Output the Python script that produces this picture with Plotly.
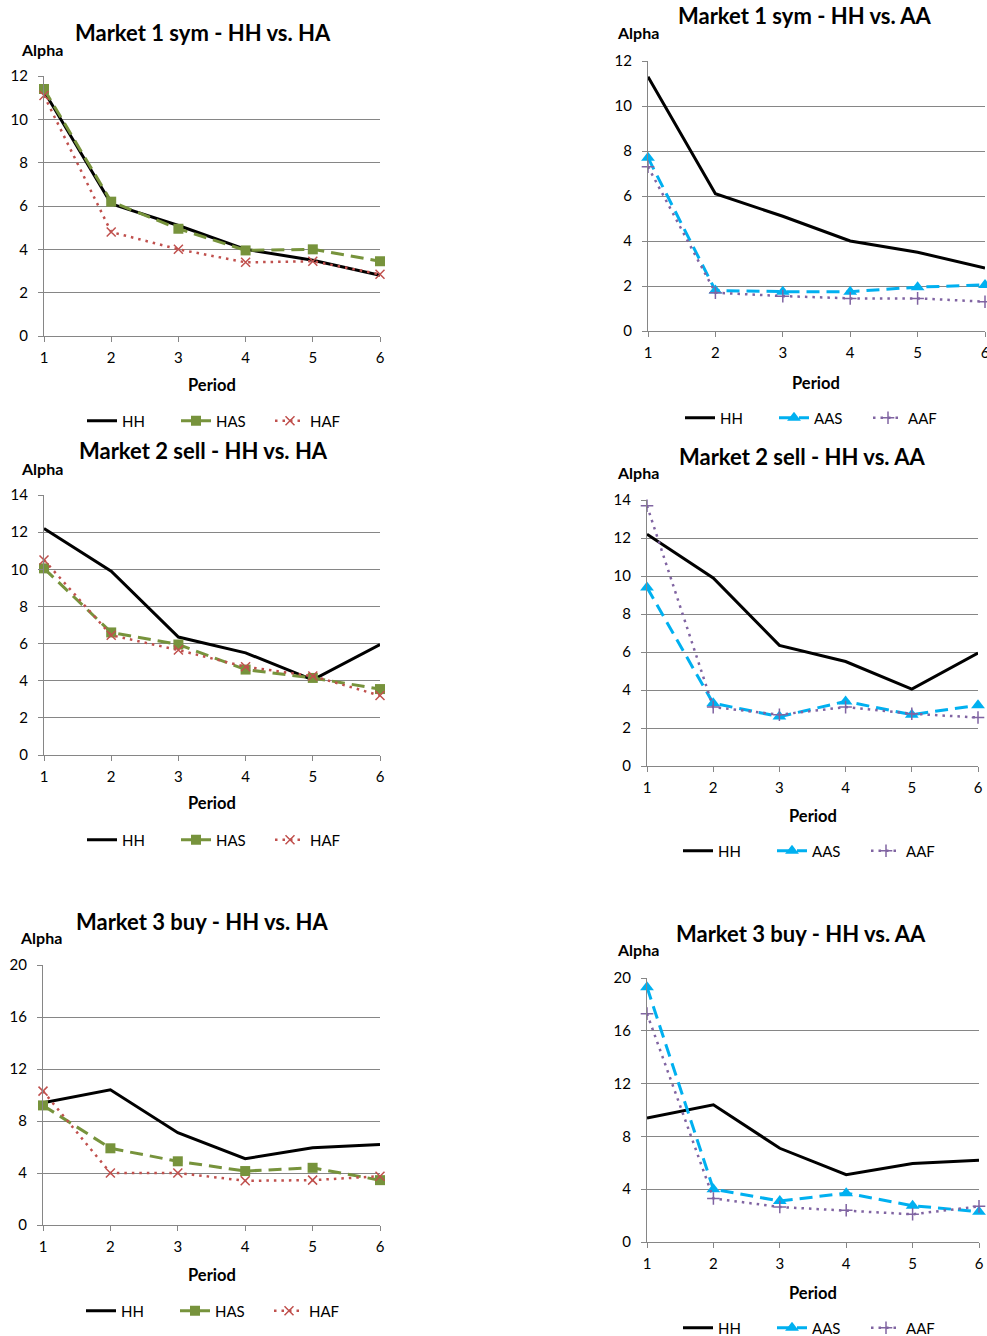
import plotly.graph_objects as go

W, H = 987, 1336
FONT = "Lato"

periods = [1, 2, 3, 4, 5, 6]

# Market 1 sym
m1_HH = [11.3, 6.1, 5.1, 4.0, 3.5, 2.8]
m1_HAS = [11.4, 6.2, 4.95, 3.95, 4.0, 3.45]
m1_HAF = [11.1, 4.8, 4.0, 3.4, 3.45, 2.85]
m1_AAS = [7.7, 1.8, 1.75, 1.75, 1.95, 2.05]
m1_AAF = [7.3, 1.7, 1.55, 1.45, 1.45, 1.3]

# Market 2 sell
m2_HH = [12.2, 9.9, 6.35, 5.5, 4.05, 5.95]
m2_HAS = [10.05, 6.6, 5.95, 4.6, 4.15, 3.55]
m2_HAF = [10.5, 6.45, 5.65, 4.75, 4.25, 3.2]
m2_AAS = [9.4, 3.3, 2.6, 3.4, 2.7, 3.2]
m2_AAF = [13.7, 3.1, 2.7, 3.1, 2.75, 2.55]

# Market 3 buy
m3_HH = [9.4, 10.4, 7.1, 5.1, 5.95, 6.2]
m3_HAS = [9.2, 5.9, 4.9, 4.15, 4.4, 3.45]
m3_HAF = [10.3, 4.0, 4.0, 3.4, 3.45, 3.75]
m3_AAS = [19.3, 4.0, 3.1, 3.7, 2.75, 2.3]
m3_AAF = [17.3, 3.3, 2.65, 2.4, 2.1, 2.7]

titles = ["Market 1 sym - HH vs. HA", "Market 1 sym - HH vs. AA",
          "Market 2 sell - HH vs. HA", "Market 2 sell - HH vs. AA",
          "Market 3 buy - HH vs. HA", "Market 3 buy - HH vs. AA"]
ymax = [12, 12, 14, 14, 20, 20]
ydt = [2, 2, 2, 2, 4, 4]

# layout geometry (pixels)
plot_boxes = [(44, 380, 76, 336), (648, 985, 61, 331),
              (44, 380, 495, 755), (647, 978, 500, 766),
              (43, 380, 965, 1225), (647, 979, 978, 1242)]
title_pos = [(203, 33), (805, 16), (203, 451), (802, 456), (202, 921), (801, 933)]
alpha_pos = [(42, 49), (638, 33), (42, 468), (638, 472), (41, 937), (638, 949)]
period_pos = [(212, 385), (816, 383), (212, 803), (813, 816), (212, 1275), (813, 1293)]
legend_pos = [(74, 421), (672, 418), (74, 840), (670, 851), (73, 1311), (670, 1328)]

styles = {
    "HH": dict(line=dict(color="#000000", width=3), mode="lines"),
    "HAS": dict(line=dict(color="#77933C", width=3, dash="13px,7px"), mode="lines+markers",
                marker=dict(symbol="square", size=10, color="#77933C")),
    "HAF": dict(line=dict(color="#C0504D", width=2.5, dash="2.5px,5px"), mode="lines+markers",
                marker=dict(symbol="x-thin", size=9, color="#C0504D", line=dict(color="#C0504D", width=1.5))),
    "AAS": dict(line=dict(color="#00B0F0", width=3, dash="13px,7px"), mode="lines+markers",
                marker=dict(symbol="triangle-up", size=12, color="#00B0F0")),
    "AAF": dict(line=dict(color="#8064A2", width=2.5, dash="2.5px,5px"), mode="lines+markers",
                marker=dict(symbol="cross-thin", size=9, color="#8064A2", line=dict(color="#8064A2", width=1.5))),
}

panels = [
    [("HH", m1_HH), ("HAS", m1_HAS), ("HAF", m1_HAF)],
    [("HH", m1_HH), ("AAS", m1_AAS), ("AAF", m1_AAF)],
    [("HH", m2_HH), ("HAS", m2_HAS), ("HAF", m2_HAF)],
    [("HH", m2_HH), ("AAS", m2_AAS), ("AAF", m2_AAF)],
    [("HH", m3_HH), ("HAS", m3_HAS), ("HAF", m3_HAF)],
    [("HH", m3_HH), ("AAS", m3_AAS), ("AAF", m3_AAF)],
]

def px(x):
    return x / W

def py(y):
    return 1 - y / H

fig = go.Figure()
annotations = []
layout = {}
for i, series in enumerate(panels):
    n = i + 1
    xa = "x" if n == 1 else f"x{n}"
    ya = "y" if n == 1 else f"y{n}"
    lg = "legend" if n == 1 else f"legend{n}"
    for name, vals in series:
        st = styles[name]
        fig.add_trace(go.Scatter(x=periods, y=vals, name=name, xaxis=xa, yaxis=ya,
                                 legend=lg, cliponaxis=False, **st))
    x0, x1, y0, y1 = plot_boxes[i]
    layout["xaxis" if n == 1 else f"xaxis{n}"] = dict(
        domain=[px(x0), px(x1)], range=[1, 6], anchor=ya, tickvals=periods,
        showgrid=False, zeroline=False, showline=True, linecolor="#868686", linewidth=1,
        ticks="outside", ticklen=5, tickcolor="#868686", ticklabelstandoff=3,
        ticklabeloverflow="allow",
        tickfont=dict(family=FONT, size=15, color="#000000"), fixedrange=True)
    layout["yaxis" if n == 1 else f"yaxis{n}"] = dict(
        domain=[py(y1), py(y0)], range=[0, ymax[i]], dtick=ydt[i], anchor=xa,
        showgrid=True, gridcolor="#868686", gridwidth=1, zeroline=False,
        showline=True, linecolor="#868686", linewidth=1,
        ticks="outside", ticklen=5, tickcolor="#868686", ticklabelstandoff=7,
        tickfont=dict(family=FONT, size=15, color="#000000"), fixedrange=True)
    tx, ty = title_pos[i]
    annotations.append(dict(text=f"<b>{titles[i]}</b>", x=px(tx), y=py(ty), xref="paper", yref="paper",
                            xanchor="center", yanchor="middle", showarrow=False,
                            font=dict(family=FONT, size=22, color="#000000")))
    ax_, ay_ = alpha_pos[i]
    annotations.append(dict(text="<b>Alpha</b>", x=px(ax_), y=py(ay_), xref="paper", yref="paper",
                            xanchor="center", yanchor="middle", showarrow=False,
                            font=dict(family=FONT, size=16, color="#000000")))
    qx, qy = period_pos[i]
    annotations.append(dict(text="<b>Period</b>", x=px(qx), y=py(qy), xref="paper", yref="paper",
                            xanchor="center", yanchor="middle", showarrow=False,
                            font=dict(family=FONT, size=16.5, color="#000000")))
    lx, ly = legend_pos[i]
    layout[lg] = dict(x=px(lx + 8), y=py(ly), xanchor="left", yanchor="middle",
                      orientation="h", bgcolor="rgba(0,0,0,0)", borderwidth=0,
                      entrywidth=49, entrywidthmode="pixels",
                      font=dict(family=FONT, size=15, color="#000000"))

fig.update_layout(width=W, height=H, margin=dict(l=0, r=0, t=0, b=0, autoexpand=False),
                  paper_bgcolor="white", plot_bgcolor="white",
                  annotations=annotations, **layout)
fig.write_html("out.html")
